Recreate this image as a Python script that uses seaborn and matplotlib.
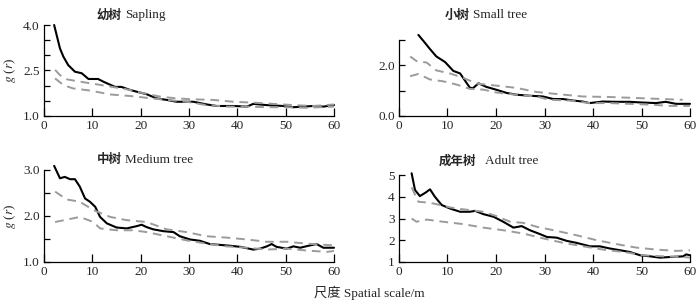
import matplotlib
matplotlib.use('Agg')
import matplotlib.pyplot as plt
import seaborn as sns

# ---------------- data ----------------
# Sapling
sap_obs_x = [2.1, 3.3, 4, 5, 6.4, 7.8, 9.2, 11.2, 12.3, 13, 14.7, 16, 17.8, 19.2, 21.2, 23.3, 25.4, 27.4, 30.9,
             33.7, 35.7, 39.2, 42, 43.3, 46, 49.5, 51.6, 53.7, 55.7, 57.8, 60]
sap_obs_y = [4.0, 3.23, 2.96, 2.68, 2.46, 2.41, 2.22, 2.22, 2.13, 2.08, 1.96, 1.96, 1.86, 1.80, 1.72, 1.58, 1.53,
             1.47, 1.47, 1.38, 1.33, 1.33, 1.31, 1.40, 1.36, 1.33, 1.29, 1.31, 1.33, 1.31, 1.36]
sap_up_x = [2.3, 3.3, 4.7, 6.8, 9.5, 13, 17.1, 20.6, 24, 27.4, 31, 35, 39.2, 43.3, 47.4, 51.6, 55.7, 60]
sap_up_y = [2.52, 2.35, 2.21, 2.15, 2.08, 1.99, 1.88, 1.75, 1.64, 1.58, 1.55, 1.53, 1.47, 1.44, 1.40, 1.36, 1.33, 1.38]
sap_lo_x = [2.3, 4, 6, 9.5, 13.7, 17.8, 21.2, 25.4, 29.5, 33.6, 37.8, 42, 46, 50.2, 54.3, 60]
sap_lo_y = [2.24, 2.02, 1.91, 1.84, 1.71, 1.66, 1.60, 1.53, 1.47, 1.36, 1.31, 1.31, 1.29, 1.29, 1.27, 1.31]

# Small tree
sml_obs_x = [4.0, 5, 6.4, 7.7, 9.5, 11.2, 12.6, 13.6, 14.6, 15.2, 16.4, 18, 20, 22.2, 24.2, 27, 29.7, 31.8, 33.8,
             35.9, 37.9, 39.3, 42, 44.8, 47.5, 50.3, 53, 55, 57.1, 60]
sml_obs_y = [3.2, 2.97, 2.64, 2.35, 2.13, 1.78, 1.68, 1.40, 1.12, 1.09, 1.29, 1.15, 1.04, 0.91, 0.84, 0.80, 0.77,
             0.67, 0.67, 0.61, 0.57, 0.51, 0.57, 0.56, 0.56, 0.53, 0.51, 0.56, 0.48, 0.48]
sml_up_x = [2.3, 3.6, 5.7, 7.7, 10.5, 13.2, 16, 20, 24.2, 28.3, 32.4, 37.9, 43.4, 48.9, 54.4, 58.5]
sml_up_y = [2.35, 2.17, 2.11, 1.80, 1.68, 1.51, 1.28, 1.20, 1.11, 0.95, 0.87, 0.77, 0.75, 0.71, 0.67, 0.64]
sml_lo_x = [2.3, 4, 6.4, 9.1, 11.9, 14.6, 17.4, 20, 24.2, 28.3, 31, 35.2, 39.3, 43.4, 47.5, 51.6, 55.8, 60]
sml_lo_y = [1.57, 1.66, 1.44, 1.37, 1.24, 1.07, 1.04, 0.93, 0.84, 0.77, 0.64, 0.61, 0.51, 0.51, 0.48, 0.45, 0.40, 0.40]

# Medium tree
med_obs_x = [2.1, 3.3, 4.3, 5.4, 6.4, 7.4, 8.5, 9.5, 10.6, 11.6, 13, 15, 17.1, 19.2, 20.2, 21.2, 22.6, 24.7, 26.8,
             28.1, 30.2, 32.3, 34.3, 37.8, 40.6, 43.3, 44.7, 46.1, 47.1, 48.1, 50.2, 51.6, 53, 55, 56.4, 57.8, 60]
med_obs_y = [3.09, 2.82, 2.85, 2.80, 2.80, 2.64, 2.38, 2.31, 2.20, 1.98, 1.84, 1.75, 1.73, 1.78, 1.81, 1.76, 1.71,
             1.67, 1.65, 1.56, 1.49, 1.46, 1.39, 1.36, 1.33, 1.27, 1.29, 1.34, 1.39, 1.33, 1.29, 1.34, 1.31, 1.36,
             1.39, 1.31, 1.31]
med_up_x = [2.3, 4.7, 7.4, 10.2, 13.7, 17.1, 21.2, 25.4, 29.5, 33.6, 37.8, 42, 46, 50.2, 54.3, 60]
med_up_y = [2.53, 2.36, 2.31, 2.13, 1.98, 1.91, 1.87, 1.71, 1.65, 1.56, 1.53, 1.49, 1.44, 1.44, 1.40, 1.36]
med_lo_x = [2.3, 4.7, 7.4, 10.2, 11.6, 15, 18.5, 21.2, 25.4, 29.5, 33.6, 37.8, 42, 46, 50.2, 54.3, 58.5, 60]
med_lo_y = [1.87, 1.92, 1.98, 1.87, 1.73, 1.69, 1.69, 1.65, 1.56, 1.47, 1.40, 1.34, 1.31, 1.27, 1.29, 1.25, 1.22, 1.24]

# Adult tree
adu_obs_x = [2.6, 3.3, 4.3, 5.4, 6.4, 7.4, 8.8, 10.5, 12.6, 14.6, 15.7, 17.4, 19.5, 21.5, 23.6, 25.3, 27, 29.1,
             30.5, 32.5, 34.6, 36.6, 39.4, 41.4, 43.5, 45.6, 47.6, 49.7, 51.8, 53.8, 55.9, 58.6, 59.2, 60]
adu_obs_y = [5.08, 4.31, 4.03, 4.18, 4.34, 4.0, 3.62, 3.46, 3.31, 3.31, 3.35, 3.2, 3.08, 2.85, 2.58, 2.65, 2.46,
             2.28, 2.15, 2.12, 1.97, 1.88, 1.72, 1.72, 1.62, 1.54, 1.46, 1.31, 1.26, 1.20, 1.23, 1.26, 1.35, 1.31]
adu_up_x = [2.6, 4, 6.4, 8.5, 10.5, 13.3, 17.4, 20.1, 22.9, 25.6, 28.4, 32.5, 36.6, 40.8, 44.9, 49, 53.1, 57.3, 60]
adu_up_y = [4.43, 3.77, 3.72, 3.62, 3.51, 3.42, 3.31, 3.11, 2.85, 2.80, 2.62, 2.43, 2.23, 2.0, 1.82, 1.66, 1.57, 1.51, 1.54]
adu_lo_x = [2.6, 3.6, 5.7, 9.1, 13.3, 17.4, 21.5, 25.6, 29.8, 33.9, 38, 42.1, 46.3, 50.4, 54.5, 58.6, 60]
adu_lo_y = [3.0, 2.85, 2.95, 2.85, 2.74, 2.58, 2.46, 2.31, 2.08, 1.88, 1.72, 1.57, 1.46, 1.31, 1.26, 1.23, 1.20]

titles_cn = ['幼树', '小树', '中树', '成年树']
titles_en = ['Sapling', 'Small tree', 'Medium tree', 'Adult tree']
x_ticks = [0, 10, 20, 30, 40, 50, 60]
xlabel_text = '尺度 Spatial scale/m'
ylabel_text = '$g$ ($r$)'

# ---------------- styling ----------------
sns.set_style('ticks')
plt.rcParams['font.family'] = ['Liberation Serif', 'Noto Sans CJK SC']
plt.rcParams['mathtext.fontset'] = 'stix'

W, H = 700, 307
fig = plt.figure(figsize=(W / 100, H / 100), dpi=100)


def add_ax(l, t, r, b):
    return fig.add_axes([l / W, 1 - b / H, (r - l) / W, (b - t) / H])


panels = [
    dict(rect=(44, 25, 334, 116), ylim=(1, 4), yticks=[1, 1.5, 2, 2.5, 3, 3.5, 4],
         ylabels=['1.0', '', '', '2.5', '', '', '4.0'],
         obs=(sap_obs_x, sap_obs_y), up=(sap_up_x, sap_up_y), lo=(sap_lo_x, sap_lo_y),
         cn=(97, 15), en=(125, 15)),
    dict(rect=(399, 40, 690, 116), ylim=(0, 3), yticks=[0, 1, 2, 3],
         ylabels=['0.0', '', '2.0', ''],
         obs=(sml_obs_x, sml_obs_y), up=(sml_up_x, sml_up_y), lo=(sml_lo_x, sml_lo_y),
         cn=(445, 15), en=(473, 15)),
    dict(rect=(44, 170, 334, 262), ylim=(1, 3), yticks=[1, 1.5, 2, 2.5, 3],
         ylabels=['1.0', '', '2.0', '', '3.0'],
         obs=(med_obs_x, med_obs_y), up=(med_up_x, med_up_y), lo=(med_lo_x, med_lo_y),
         cn=(97, 160), en=(125, 160)),
    dict(rect=(399, 175, 690, 262), ylim=(1, 5), yticks=[1, 2, 3, 4, 5],
         ylabels=['1', '2', '3', '4', '5'],
         obs=(adu_obs_x, adu_obs_y), up=(adu_up_x, adu_up_y), lo=(adu_lo_x, adu_lo_y),
         cn=(439, 161), en=(485, 161)),
]

gray = '#9b9b9b'
for i, p in enumerate(panels):
    ax = add_ax(*p['rect'])
    sns.lineplot(x=p['obs'][0], y=p['obs'][1], ax=ax, color='black', lw=1.5, clip_on=False)
    for key in ('up', 'lo'):
        sns.lineplot(x=p[key][0], y=p[key][1], ax=ax, color=gray, lw=1.4,
                     linestyle=(0, (4.5, 3)), clip_on=False)
    ax.set_xlim(0, 60)
    ax.set_ylim(*p['ylim'])
    ax.set_xticks(x_ticks)
    ax.set_xticklabels([str(v) for v in x_ticks])
    ax.set_yticks(p['yticks'])
    ax.set_yticklabels(p['ylabels'])
    ax.set_xlabel('')
    ax.set_ylabel('')
    for s in ('top', 'right'):
        ax.spines[s].set_visible(False)
    for s in ('left', 'bottom'):
        ax.spines[s].set_linewidth(0.9)
        ax.spines[s].set_color('black')
    ax.tick_params(axis='both', direction='in', labelsize=9.5, width=0.9, color='black', pad=3)
    ax.tick_params(axis='x', length=5.5)
    ax.tick_params(axis='y', length=4.5)
    fig.text(p['cn'][0] / W, 1 - p['cn'][1] / H, titles_cn[i], family='Noto Sans CJK SC',
             weight='bold', fontsize=9, ha='left', va='center')
    fig.text(p['en'][0] / W, 1 - p['en'][1] / H, titles_en[i], family='Liberation Serif',
             fontsize=9.5, ha='left', va='center')

fig.text(10 / W, 1 - 70 / H, ylabel_text, rotation=90, ha='center', va='center', fontsize=9.5)
fig.text(10 / W, 1 - 216 / H, ylabel_text, rotation=90, ha='center', va='center', fontsize=9.5)
fig.text(369 / W, 1 - 293 / H, xlabel_text, ha='center', va='center', fontsize=9.5,
         family=['Liberation Serif', 'Noto Sans CJK SC'])

fig.savefig('out.png', dpi=100)
